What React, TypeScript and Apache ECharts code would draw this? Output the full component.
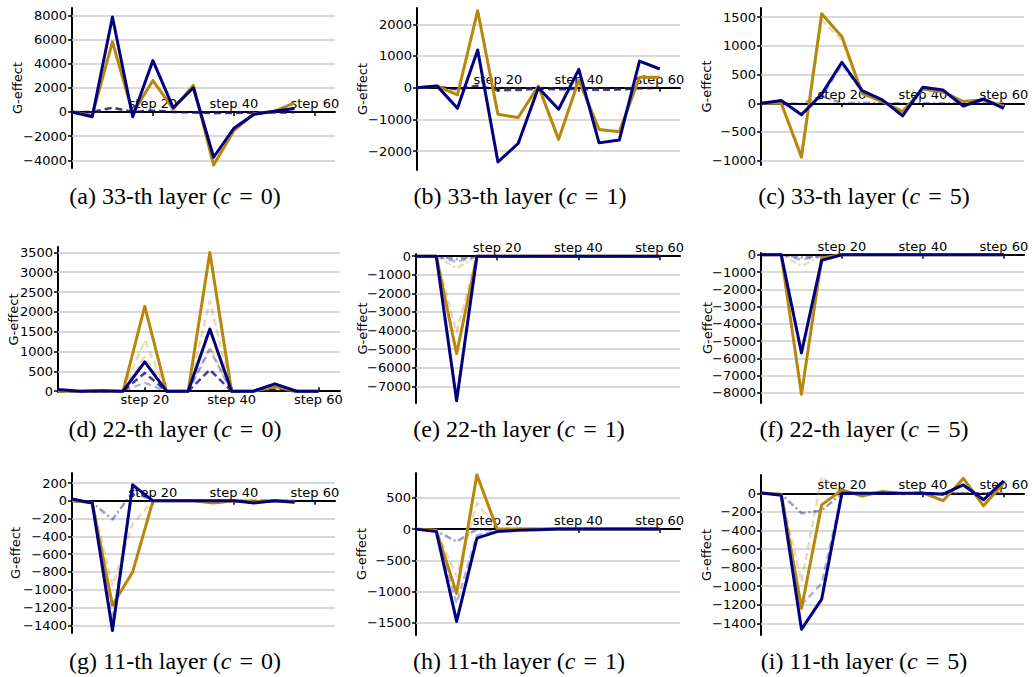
import React, { useEffect, useRef } from 'react';
import * as echarts from 'echarts';

// x positions (training steps)
const steps = [0, 5, 10, 15, 20, 25, 30, 35, 40, 45, 50, 55, 60];
const xTickValues = [20, 40, 60];

// captions
const captionLetters = ['a', 'b', 'c', 'd', 'e', 'f', 'g', 'h', 'i'];
const captionLayers = [33, 33, 33, 22, 22, 22, 11, 11, 11];
const captionC = [0, 1, 5, 0, 1, 5, 0, 1, 5];

// y tick labels per panel
const aTicks = [-4000, -2000, 0, 2000, 4000, 6000, 8000];
const bTicks = [-2000, -1000, 0, 1000, 2000];
const cTicks = [-1000, -500, 0, 500, 1000, 1500];
const dTicks = [0, 500, 1000, 1500, 2000, 2500, 3000, 3500];
const eTicks = [-7000, -6000, -5000, -4000, -3000, -2000, -1000, 0];
const fTicks = [-8000, -7000, -6000, -5000, -4000, -3000, -2000, -1000, 0];
const gTicks = [-1400, -1200, -1000, -800, -600, -400, -200, 0, 200];
const hTicks = [-1500, -1000, -500, 0, 500];
const iTicks = [-1400, -1200, -1000, -800, -600, -400, -200, 0];

// (a) 33-th layer, c = 0
const aGold = [0, -300, 5800, -100, 2600, 250, 2200, -4400, -1550, -150, 50, 750];
const aNavy = [0, -400, 7850, -400, 4250, 350, 2000, -3750, -1350, -200, 50, 280];
const aNavyDark = [0, 0, 350, 0, 100, 0, -50, -100, -90, -60, -50, -30];
const aGoldDash = [0, -100, 300, 0, 100, 0, 0, -50, -50, 0, 0, 0];
// (b) 33-th layer, c = 1
const bGold = [0, 50, -230, 2430, -840, -940, 50, -1630, 240, -1320, -1390, 330, 330];
const bNavy = [0, 50, -650, 1190, -2340, -1760, 0, -680, 580, -1740, -1650, 840, 590];
const bNavyDark = [0, 30, -40, 60, -80, -70, -30, -50, -40, -70, -60, -20, -10];
const bGoldDash = [0, 30, -100, 80, -20, -30, 10, -40, 20, -30, -30, 10, 10];
// (c) 33-th layer, c = 5
const cGold = [0, 0, -940, 1560, 1160, 175, 30, -145, 250, 200, 30, 60, -50];
const cNavy = [0, 50, -200, 160, 715, 220, 60, -220, 280, 230, -50, 75, -90];
const cGoldDash = [0, 0, -880, 1450, 1100, 150, 20, -120, 230, 190, 20, 50, -40];
const cNavyDash = [0, 40, -180, 100, 680, 200, 50, -200, 260, 210, -40, 70, -80];
const cNavyDashDot = [0, 0, -10, 130, 0, 10, 0, 0, 0, 0, 0, 0, 0];
// (d) 22-th layer, c = 0
const dGold = [0, 0, 0, 0, 2140, 0, 0, 3500, 0, 0, 120, 0, 0];
const dNavy = [40, 0, 10, 0, 740, 0, 0, 1570, 0, 0, 185, 0, 0];
const dGoldDash = [0, 0, 0, 0, 1280, 0, 0, 2270, 0, 0, 60, 0, 0];
const dGoldDashDot = [0, 0, 0, 0, 870, 0, 0, 1120, 0, 0, 40, 0, 0];
const dNavyDash = [0, 0, 0, 0, 210, 0, 0, 1050, 0, 0, 60, 0, 0];
const dNavyDashDot = [0, 0, 0, 0, 460, 0, 0, 540, 0, 0, 30, 0, 0];
// (e) 22-th layer, c = 1
const eGold = [0, 0, -5240, 0, 0, 0, 0, 0, 0, 0, 0, 0, 0];
const eNavy = [0, 0, -7780, 0, 0, 0, 0, 0, 0, 0, 0, 0, 0];
const eGoldDash = [0, 0, -4100, 0, 0, 0, 0, 0, 0, 0, 0, 0, 0];
const eGoldDashDot = [0, 0, -650, 0, 0, 0, 0, 0, 0, 0, 0, 0, 0];
const eNavyDash = [0, 0, -300, 0, 0, 0, 0, 0, 0, 0, 0, 0, 0];
const eNavyDashDot = [0, 0, -150, 0, 0, 0, 0, 0, 0, 0, 0, 0, 0];
// (f) 22-th layer, c = 5
const fGold = [0, 0, -8080, -200, 0, 0, 0, 0, 0, 0, 0, 0, 0];
const fNavy = [0, 0, -5680, -330, 0, 0, 0, 0, 0, 0, 0, 0, 0];
const fGoldDashDot = [0, 0, -640, -100, 0, 0, 0, 0, 0, 0, 0, 0, 0];
const fNavyDash = [0, 0, -290, -50, 0, 0, 0, 0, 0, 0, 0, 0, 0];
const fNavyDashDot = [0, 0, -150, -80, 0, 0, 0, 0, 0, 0, 0, 0, 0];
// (g) 11-th layer, c = 0
const gGold = [0, -20, -1175, -800, 0, 0, 0, -25, 0, -10, 0, -10];
const gNavy = [20, -25, -1460, 180, 0, 0, 0, 0, 0, -25, 0, -15];
const gGoldDash = [0, -20, -950, -260, 0, 0, 0, 0, 0, 0, 0, 0];
const gNavyDash = [0, -20, -1350, 150, 0, 0, 0, 0, 0, 0, 0, 0];
const gNavyDashDot = [0, -20, -210, 100, 0, 0, 0, 0, 0, 0, 0, 0];
// (h) 11-th layer, c = 1
const hGold = [0, -20, -1030, 870, 0, 0, 0, 0, 0, 0, 0, 0, 0];
const hNavy = [0, -40, -1480, -145, -40, -20, -10, 0, 0, 0, 0, 0, 0];
const hGoldDash = [0, -20, -760, 420, 0, 0, 0, 0, 0, 0, 0, 0, 0];
const hNavyDash = [0, -30, -1190, -100, -30, 0, 0, 0, 0, 0, 0, 0, 0];
const hNavyDashDot = [0, -30, -200, 0, -20, 0, 0, 0, 0, 0, 0, 0, 0];
// (i) 11-th layer, c = 5
const iGold = [0, -10, -1240, -125, 35, -30, 20, -5, 5, -80, 160, -135, 110];
const iNavy = [5, -20, -1465, -1140, 0, 0, 0, 0, 0, -10, 90, -70, 135];
const iGoldDash = [0, -10, -950, 180, 0, 0, 0, 0, 0, 0, 0, 0, 0];
const iNavyDash = [0, -10, -1200, -970, 0, 0, 0, 0, 0, 0, 0, 0, 0];
const iNavyDashDot = [0, -10, -215, -185, 0, 0, 0, 0, 0, 0, 0, 0, 0];

const STYLES: Record<string, any> = {
  gold: { color: '#b8860b', width: 3, type: 'solid' },
  navy: { color: '#000080', width: 3, type: 'solid' },
  navyDark: { color: 'rgba(0,0,128,0.75)', width: 2.5, type: [7, 4] },
  goldDash: { color: 'rgba(184,134,11,0.3)', width: 2.5, type: [7, 4] },
  goldDashDot: { color: 'rgba(184,134,11,0.3)', width: 2.5, type: [7, 3, 2, 3] },
  navyDash: { color: 'rgba(0,0,128,0.3)', width: 2.5, type: [7, 4] },
  navyDashDot: { color: 'rgba(0,0,128,0.4)', width: 2.5, type: [7, 3, 2, 3] },
};

const panelSeries: [number[], string][][] = [
  [[aGoldDash, 'goldDash'], [aNavyDark, 'navyDark'], [aGold, 'gold'], [aNavy, 'navy']],
  [[bGoldDash, 'goldDash'], [bNavyDark, 'navyDark'], [bGold, 'gold'], [bNavy, 'navy']],
  [[cGoldDash, 'goldDash'], [cNavyDash, 'navyDash'], [cNavyDashDot, 'navyDashDot'], [cGold, 'gold'], [cNavy, 'navy']],
  [[dGoldDash, 'goldDash'], [dGoldDashDot, 'goldDash'], [dNavyDash, 'navyDash'], [dNavyDashDot, 'navyDark'], [dGold, 'gold'], [dNavy, 'navy']],
  [[eGoldDash, 'goldDash'], [eGoldDashDot, 'goldDashDot'], [eNavyDash, 'navyDash'], [eNavyDashDot, 'navyDashDot'], [eGold, 'gold'], [eNavy, 'navy']],
  [[fGoldDashDot, 'goldDashDot'], [fNavyDash, 'navyDash'], [fNavyDashDot, 'navyDashDot'], [fGold, 'gold'], [fNavy, 'navy']],
  [[gGoldDash, 'goldDash'], [gNavyDash, 'navyDash'], [gNavyDashDot, 'navyDashDot'], [gGold, 'gold'], [gNavy, 'navy']],
  [[hGoldDash, 'goldDash'], [hNavyDash, 'navyDash'], [hNavyDashDot, 'navyDashDot'], [hGold, 'gold'], [hNavy, 'navy']],
  [[iGoldDash, 'goldDash'], [iNavyDash, 'navyDash'], [iNavyDashDot, 'navyDashDot'], [iGold, 'gold'], [iNavy, 'navy']],
];

const panelTicks = [aTicks, bTicks, cTicks, dTicks, eTicks, fTicks, gTicks, hTicks, iTicks];

const layout = [
  { grid: { left: 72, top: 8, width: 263, height: 160 }, yMin: -4640, yMax: 8600, nameGap: 48, below: false, cx: 175, cy: 196 },
  { grid: { left: 417, top: 8, width: 263, height: 162 }, yMin: -2596, yMax: 2514, nameGap: 48, below: false, cx: 520, cy: 196 },
  { grid: { left: 761, top: 8, width: 263, height: 157 }, yMin: -1075, yMax: 1660, nameGap: 48, below: false, cx: 864, cy: 196 },
  { grid: { left: 58, top: 247, width: 282, height: 145 }, yMin: -20, yMax: 3636, nameGap: 38, below: true, cx: 175, cy: 429 },
  { grid: { left: 416, top: 254, width: 264, height: 149 }, yMin: -7900, yMax: 120, nameGap: 47, below: false, cx: 519, cy: 429 },
  { grid: { left: 761, top: 253, width: 263, height: 150 }, yMin: -8580, yMax: 100, nameGap: 47, below: false, cx: 864, cy: 429 },
  { grid: { left: 72, top: 473, width: 263, height: 160 }, yMin: -1487, yMax: 313, nameGap: 50, below: false, cx: 175, cy: 661 },
  { grid: { left: 416, top: 473, width: 264, height: 162 }, yMin: -1698, yMax: 900, nameGap: 48, below: false, cx: 519, cy: 661 },
  { grid: { left: 761, top: 475, width: 263, height: 160 }, yMin: -1526, yMax: 197, nameGap: 48, below: false, cx: 864, cy: 661 },
];

const FONT = 'DejaVu Sans';

function buildOption() {
  const grid: any[] = [];
  const xAxis: any[] = [];
  const yAxis: any[] = [];
  const series: any[] = [];
  const graphic: any[] = [];

  layout.forEach((p, k) => {
    grid.push({ ...p.grid, containLabel: false });
    // shift the x axis up so that it sits on y = 0
    const zeroOffset = -(p.grid.height * (0 - p.yMin)) / (p.yMax - p.yMin);
    xAxis.push({
      type: 'value',
      gridIndex: k,
      min: 0,
      max: 65,
      position: 'bottom',
      offset: zeroOffset,
      axisLine: { onZero: false, lineStyle: { color: '#000', width: 2 } },
      axisTick: { show: true, customValues: xTickValues, inside: p.below, length: 4, lineStyle: { color: '#000', width: 1.5 } },
      axisLabel: {
        customValues: xTickValues,
        inside: !p.below,
        margin: 2,
        color: '#000',
        fontSize: 13,
        fontFamily: FONT,
        formatter: (v: number) => 'step ' + v,
      },
      splitLine: { show: false },
    });
    yAxis.push({
      type: 'value',
      gridIndex: k,
      min: p.yMin,
      max: p.yMax,
      name: 'G-effect',
      nameLocation: 'middle',
      nameGap: p.nameGap,
      nameRotate: 90,
      nameMoveOverlap: false,
      nameTextStyle: { color: '#000', fontSize: 13, fontFamily: FONT },
      axisLine: { show: true, onZero: false, lineStyle: { color: '#000', width: 2 } },
      axisTick: { show: true, customValues: panelTicks[k], length: 4, lineStyle: { color: '#000', width: 1.5 } },
      axisLabel: {
        customValues: panelTicks[k],
        margin: 5,
        color: '#000',
        fontSize: 13,
        fontFamily: FONT,
        formatter: (v: number) => String(v).replace('-', '\u2212'),
      },
      splitLine: { show: false },
    });
    // grid lines
    series.push({
      type: 'line',
      xAxisIndex: k,
      yAxisIndex: k,
      data: [[0, 0]],
      symbol: 'none',
      silent: true,
      lineStyle: { opacity: 0 },
      z: 1,
      markLine: {
        silent: true,
        symbol: ['none', 'none'],
        label: { show: false },
        z: 1,
        animation: false,
        lineStyle: { color: '#cccccc', width: 1.5, type: 'solid' },
        data: panelTicks[k].filter((v) => v !== 0).map((v) => ({ yAxis: v })),
      },
    });
    panelSeries[k].forEach(([vals, st], j) => {
      series.push({
        type: 'line',
        xAxisIndex: k,
        yAxisIndex: k,
        data: vals.map((v, i) => [steps[i], v]),
        symbol: 'none',
        silent: true,
        z: 2 + j,
        lineStyle: { ...STYLES[st], join: 'round' },
      });
    });
    graphic.push({
      type: 'text',
      x: p.cx,
      y: p.cy,
      style: {
        text: `(${captionLetters[k]}) ${captionLayers[k]}-th layer ({i|c}\u2004=\u2004${captionC[k]})`,
        fill: '#000',
        fontSize: 24,
        fontFamily: 'Liberation Serif',
        align: 'center',
        verticalAlign: 'middle',
        textAlign: 'center',
        textVerticalAlign: 'middle',
        rich: { i: { fontStyle: 'italic', fontSize: 24, fontFamily: 'Liberation Serif', fill: '#000' } },
      },
    });
  });

  return { animation: false, backgroundColor: '#fff', grid, xAxis, yAxis, series, graphic };
}

export default function App() {
  const ref = useRef<HTMLDivElement>(null);
  useEffect(() => {
    if (!ref.current) return;
    const chart = echarts.init(ref.current, undefined, { renderer: 'svg' });
    chart.setOption(buildOption() as any);
    return () => chart.dispose();
  }, []);
  return <div ref={ref} style={{ position: 'fixed', left: 0, top: 0, width: 1032, height: 677, background: '#fff' }} />;
}
